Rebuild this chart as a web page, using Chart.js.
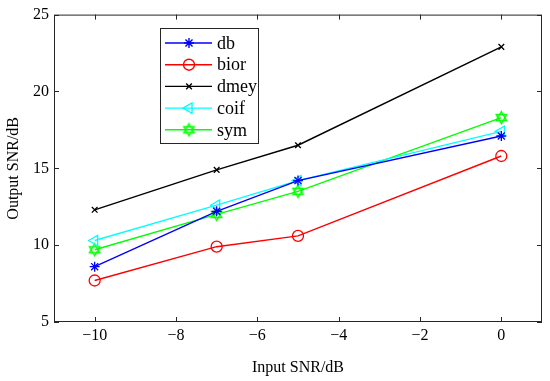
<!DOCTYPE html>
<html>
<head>
<meta charset="utf-8">
<script src="https://cdn.jsdelivr.net/npm/chart.js@4/dist/chart.umd.min.js"></script>
<style>
  html, body { margin: 0; padding: 0; background: #fff; }
  #wrap { width: 550px; height: 381px; }
</style>
</head>
<body>
<div id="wrap"><canvas id="c" width="550" height="381"></canvas></div>
<script>
// ========== DATA ==========
const inputSnr = [-10, -7, -5, 0];
const dbValues   = [8.6, 12.2, 14.2, 17.1];
const biorValues = [7.7, 9.9, 10.6, 15.8];
const dmeyValues = [12.3, 14.9, 16.5, 22.9];
const coifValues = [10.3, 12.6, 14.2, 17.4];
const symValues  = [9.7, 12.0, 13.5, 18.3];
const seriesNames = ['db', 'bior', 'dmey', 'coif', 'sym'];
const xTicks = [-10, -8, -6, -4, -2, 0];
const yTicks = [5, 10, 15, 20, 25];

const FONT = 'Liberation Serif';

// hexagram marker (MATLAB 'h') drawn into a small canvas
function makeHexagram(color) {
    const s = 15, c = document.createElement('canvas');
    c.width = s; c.height = s;
    const g = c.getContext('2d');
    g.strokeStyle = color;
    g.lineWidth = 1.4;
    const cx = s / 2, cy = s / 2, r = 6;
    [-Math.PI / 2, Math.PI / 2].forEach(a0 => {
        g.beginPath();
        for (let i = 0; i < 3; i++) {
            const a = a0 + i * 2 * Math.PI / 3;
            const px = cx + r * Math.cos(a), py = cy + r * Math.sin(a);
            i === 0 ? g.moveTo(px, py) : g.lineTo(px, py);
        }
        g.closePath();
        g.stroke();
    });
    return c;
}
const hexagram = makeHexagram('#00ff00');

function toPoints(vals) {
    return inputSnr.map((x, i) => ({ x: x, y: vals[i] }));
}

const datasets = [
    { label: 'db',   data: toPoints(dbValues),   borderColor: '#0000ff', pointStyle: 'star',     pointRadius: 5, pointRotation: 0 },
    { label: 'bior', data: toPoints(biorValues), borderColor: '#ff0000', pointStyle: 'circle',   pointRadius: 5.5, pointRotation: 0 },
    { label: 'dmey', data: toPoints(dmeyValues), borderColor: '#000000', pointStyle: 'crossRot', pointRadius: 4, pointRotation: 0 },
    { label: 'coif', data: toPoints(coifValues), borderColor: '#00ffff', pointStyle: 'triangle', pointRadius: 6, pointRotation: -90 },
    { label: 'sym',  data: toPoints(symValues),  borderColor: '#00ff00', pointStyle: hexagram,   pointRadius: 6, pointRotation: 0 },
].map(d => Object.assign(d, {
    backgroundColor: 'rgba(0,0,0,0)',
    pointBorderColor: d.borderColor,
    pointBackgroundColor: 'rgba(0,0,0,0)',
    borderWidth: 1.4,
    pointBorderWidth: 1.3,
    tension: 0,
    fill: false,
}));

// axes box, inward ticks, MATLAB-like legend
const matlabBox = {
    id: 'matlabBox',
    afterDraw(chart) {
        const ctx = chart.ctx, a = chart.chartArea;
        const xs = chart.scales.x, ys = chart.scales.y;
        ctx.save();
        ctx.strokeStyle = '#262626';
        ctx.lineWidth = 1;
        ctx.strokeRect(a.left + 0.5, a.top + 0.5, a.right - a.left - 1, a.bottom - a.top - 1);
        ctx.beginPath();
        xTicks.forEach(v => {
            const px = Math.round(xs.getPixelForValue(v)) + 0.5;
            ctx.moveTo(px, a.bottom); ctx.lineTo(px, a.bottom - 5);
            ctx.moveTo(px, a.top); ctx.lineTo(px, a.top + 5);
        });
        yTicks.forEach(v => {
            const py = Math.round(ys.getPixelForValue(v)) + 0.5;
            ctx.moveTo(a.left, py); ctx.lineTo(a.left + 5, py);
            ctx.moveTo(a.right, py); ctx.lineTo(a.right - 5, py);
        });
        ctx.stroke();

        // legend
        const lx = 160, ly = 28, lw = 98, lh = 115;
        ctx.fillStyle = '#fff';
        ctx.fillRect(lx, ly, lw, lh);
        ctx.strokeStyle = '#262626';
        ctx.strokeRect(lx + 0.5, ly + 0.5, lw, lh);
        ctx.font = '18px "' + FONT + '"';
        ctx.textBaseline = 'middle';
        chart.data.datasets.forEach((ds, i) => {
            const y = ly + 15 + i * 21.7;
            ctx.strokeStyle = ds.borderColor;
            ctx.lineWidth = 1.4;
            ctx.beginPath();
            ctx.moveTo(lx + 5, y); ctx.lineTo(lx + 52, y);
            ctx.stroke();
            ctx.fillStyle = 'rgba(0,0,0,0)';
            Chart.helpers.drawPoint(ctx, {
                pointStyle: ds.pointStyle,
                rotation: ds.pointRotation,
                radius: ds.pointRadius,
                borderWidth: ds.pointBorderWidth,
            }, lx + 29, y);
            ctx.fillStyle = '#000';
            ctx.fillText(seriesNames[i], lx + 57, y + 1);
        });
        ctx.restore();
    }
};

new Chart(document.getElementById('c'), {
    type: 'line',
    data: { datasets: datasets },
    plugins: [matlabBox],
    options: {
        responsive: false,
        animation: false,
        layout: { padding: { left: 0, top: 14, right: 8, bottom: 0 } },
        plugins: { legend: { display: false }, tooltip: { enabled: false } },
        scales: {
            x: {
                type: 'linear',
                min: -11, max: 1,
                afterBuildTicks: s => { s.ticks = xTicks.map(v => ({ value: v })); },
                afterFit: s => { s.height = 59; },
                ticks: {
                    color: '#000',
                    font: { family: FONT, size: 16 },
                    padding: 4,
                    callback: v => String(v).replace('-', '\u2212'),
                },
                grid: { display: false, drawTicks: false },
                border: { display: false },
                title: {
                    display: true, text: 'Input SNR/dB', color: '#000',
                    font: { family: FONT, size: 16 }, padding: { top: 4 },
                },
            },
            y: {
                type: 'linear',
                min: 5, max: 25,
                afterBuildTicks: s => { s.ticks = yTicks.map(v => ({ value: v })); },
                afterFit: s => { s.width = 54; },
                ticks: {
                    color: '#000',
                    font: { family: FONT, size: 16 },
                    padding: 5,
                },
                grid: { display: false, drawTicks: false },
                border: { display: false },
                title: {
                    display: true, text: 'Output SNR/dB', color: '#000',
                    font: { family: FONT, size: 16 }, padding: { bottom: 0 },
                },
            },
        },
    },
});
</script>
</body>
</html>
